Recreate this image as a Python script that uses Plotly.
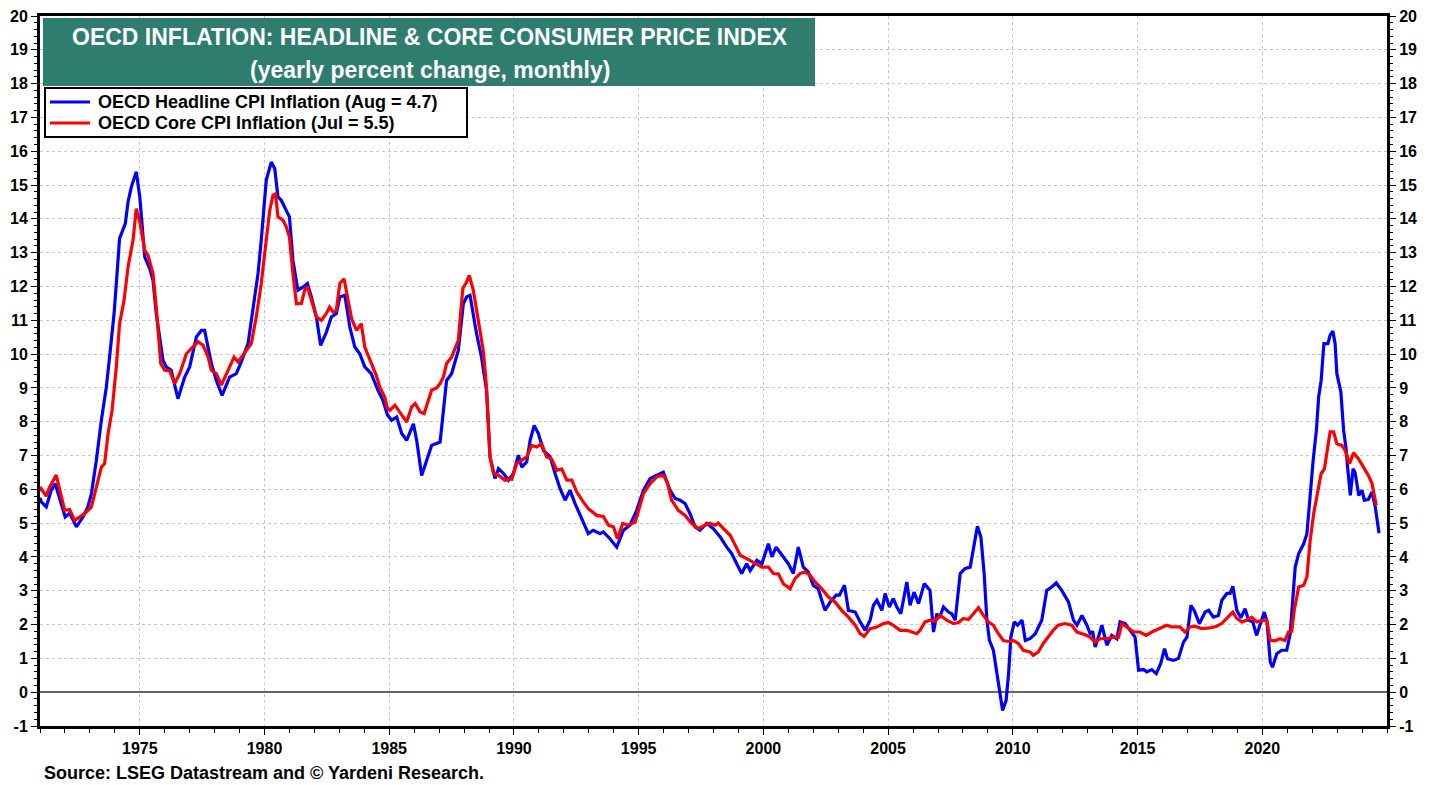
import plotly.graph_objects as go

# ---------------- data ----------------
headline_dates = [
    1971.00, 1971.05, 1971.25, 1971.45, 1971.61, 1971.85, 1972.01, 1972.19, 1972.46, 1972.72,
    1972.92, 1973.06, 1973.26, 1973.46, 1973.66, 1973.79, 1973.97, 1974.06, 1974.19, 1974.42,
    1974.53, 1974.66, 1974.86, 1975.00, 1975.13, 1975.20, 1975.40, 1975.53, 1975.66, 1975.80,
    1975.93, 1976.06, 1976.26, 1976.53, 1976.80, 1977.00, 1977.27, 1977.47, 1977.60, 1977.87,
    1978.07, 1978.30, 1978.60, 1978.87, 1979.07, 1979.34, 1979.54, 1979.74, 1979.87, 1980.07,
    1980.27, 1980.41, 1980.54, 1980.67, 1980.87, 1981.00, 1981.14, 1981.34, 1981.54, 1981.72,
    1981.88, 1982.08, 1982.25, 1982.48, 1982.68, 1982.88, 1983.02, 1983.22, 1983.42, 1983.62,
    1983.82, 1984.02, 1984.28, 1984.55, 1984.75, 1984.93, 1985.10, 1985.30, 1985.50, 1985.70,
    1985.97, 1986.10, 1986.30, 1986.50, 1986.70, 1987.04, 1987.17, 1987.30, 1987.50, 1987.77,
    1987.97, 1988.10, 1988.24, 1988.50, 1988.70, 1988.90, 1989.04, 1989.24, 1989.38, 1989.58,
    1989.78, 1989.98, 1990.18, 1990.31, 1990.51, 1990.65, 1990.81, 1990.98, 1991.18, 1991.45,
    1991.65, 1991.85, 1992.05, 1992.25, 1992.45, 1992.65, 1992.98, 1993.18, 1993.45, 1993.58,
    1993.85, 1994.12, 1994.39, 1994.65, 1994.92, 1995.19, 1995.46, 1995.73, 1995.99, 1996.26,
    1996.46, 1996.66, 1996.86, 1997.06, 1997.26, 1997.46, 1997.73, 1997.99, 1998.27, 1998.53,
    1998.73, 1998.93, 1999.13, 1999.33, 1999.47, 1999.74, 1999.94, 2000.20, 2000.34, 2000.51,
    2000.74, 2001.00, 2001.20, 2001.40, 2001.60, 2001.80, 2002.00, 2002.20, 2002.34, 2002.47,
    2002.68, 2002.92, 2003.05, 2003.25, 2003.41, 2003.68, 2003.88, 2004.08, 2004.28, 2004.41,
    2004.55, 2004.75, 2004.88, 2005.05, 2005.21, 2005.35, 2005.51, 2005.75, 2005.88, 2006.04,
    2006.22, 2006.45, 2006.68, 2006.75, 2006.82, 2006.95, 2007.06, 2007.22, 2007.42, 2007.55,
    2007.69, 2007.89, 2008.09, 2008.29, 2008.42, 2008.58, 2008.72, 2008.85, 2008.96, 2009.06,
    2009.22, 2009.36, 2009.52, 2009.59, 2009.73, 2009.83, 2009.92, 2010.06, 2010.19, 2010.37,
    2010.50, 2010.70, 2010.90, 2011.16, 2011.36, 2011.56, 2011.74, 2011.96, 2012.23, 2012.43,
    2012.57, 2012.77, 2012.97, 2013.10, 2013.20, 2013.30, 2013.43, 2013.57, 2013.77, 2013.97,
    2014.17, 2014.30, 2014.50, 2014.70, 2014.90, 2015.04, 2015.24, 2015.37, 2015.57, 2015.75,
    2015.93, 2016.08, 2016.20, 2016.44, 2016.64, 2016.84, 2016.98, 2017.14, 2017.27, 2017.48,
    2017.71, 2017.85, 2018.04, 2018.24, 2018.38, 2018.58, 2018.71, 2018.82, 2018.98, 2019.14,
    2019.31, 2019.45, 2019.62, 2019.77, 2019.90, 2020.08, 2020.19, 2020.32, 2020.41, 2020.58,
    2020.78, 2020.98, 2021.12, 2021.23, 2021.32, 2021.46, 2021.66, 2021.79, 2021.90, 2022.04,
    2022.17, 2022.26, 2022.36, 2022.47, 2022.63, 2022.72, 2022.83, 2022.92, 2022.99, 2023.15,
    2023.26, 2023.36, 2023.42, 2023.53, 2023.64, 2023.72, 2023.87, 2024.00, 2024.09, 2024.25,
    2024.40, 2024.53, 2024.68,
]
headline_values = [
    5.75, 5.63, 5.48, 5.97, 6.17, 5.58, 5.18, 5.29, 4.89, 5.18,
    5.48, 5.87, 6.86, 8.04, 9.03, 9.91, 11.20, 12.09, 13.42, 13.86,
    14.50, 14.94, 15.39, 14.65, 13.46, 12.87, 12.53, 12.18, 11.20, 10.41,
    9.82, 9.62, 9.52, 8.68, 9.32, 9.62, 10.51, 10.70, 10.70, 9.72,
    9.22, 8.78, 9.32, 9.42, 9.77, 10.31, 11.39, 12.38, 13.37, 15.14,
    15.68, 15.49, 14.65, 14.55, 14.25, 14.06, 12.77, 11.89, 11.98, 12.09,
    11.69, 11.10, 10.26, 10.65, 11.10, 11.20, 11.69, 11.74, 10.80, 10.21,
    10.01, 9.62, 9.42, 8.93, 8.63, 8.20, 8.04, 8.14, 7.65, 7.45,
    7.94, 7.45, 6.41, 6.86, 7.30, 7.40, 8.24, 9.22, 9.42, 10.11,
    11.49, 11.69, 11.74, 10.61, 9.91, 8.93, 6.96, 6.32, 6.61, 6.47,
    6.27, 6.47, 7.01, 6.66, 6.81, 7.45, 7.89, 7.65, 7.15, 6.96,
    6.47, 6.02, 5.68, 5.97, 5.58, 5.23, 4.69, 4.79, 4.69, 4.74,
    4.54, 4.29, 4.79, 4.94, 5.38, 5.97, 6.32, 6.42, 6.51, 5.97,
    5.73, 5.68, 5.58, 5.28, 4.89, 4.79, 4.99, 4.84, 4.59, 4.29,
    4.10, 3.80, 3.51, 3.80, 3.60, 3.90, 3.80, 4.39, 4.00, 4.29,
    4.05, 3.80, 3.51, 4.29, 3.70, 3.56, 3.16, 3.06, 2.72, 2.42,
    2.67, 2.87, 2.87, 3.16, 2.42, 2.37, 2.08, 1.83, 2.13, 2.57,
    2.72, 2.42, 2.92, 2.52, 2.77, 2.52, 2.32, 3.26, 2.57, 2.96,
    2.62, 3.21, 3.01, 2.22, 1.78, 2.32, 2.20, 2.52, 2.37, 2.32,
    2.13, 3.51, 3.66, 3.70, 4.29, 4.91, 4.59, 3.51, 2.13, 1.53,
    1.24, 0.55, -0.14, -0.54, -0.24, 0.55, 1.63, 2.08, 1.98, 2.13,
    1.53, 1.59, 1.73, 2.13, 3.01, 3.11, 3.23, 3.01, 2.67, 2.13,
    1.98, 2.27, 1.98, 1.73, 1.80, 1.34, 1.63, 1.98, 1.39, 1.68,
    1.58, 2.08, 2.03, 1.83, 1.63, 0.65, 0.67, 0.60, 0.67, 0.55,
    0.85, 1.29, 0.99, 0.94, 1.00, 1.48, 1.63, 2.57, 2.42, 2.03,
    2.37, 2.42, 2.22, 2.27, 2.72, 2.92, 2.92, 3.13, 2.42, 2.20,
    2.47, 2.13, 2.08, 1.68, 2.00, 2.37, 2.08, 0.89, 0.74, 1.14,
    1.24, 1.24, 1.73, 2.92, 3.70, 4.10, 4.39, 4.69, 5.77, 6.86,
    7.75, 8.73, 9.22, 10.31, 10.31, 10.56, 10.68, 10.31, 9.42, 8.88,
    7.75, 7.20, 6.66, 5.82, 6.61, 6.50, 5.82, 5.97, 5.68, 5.70,
    5.92, 5.48, 4.70,
]

core_dates = [
    1971.00, 1971.05, 1971.25, 1971.39, 1971.65, 1971.79, 1971.99, 1972.19, 1972.39, 1972.59,
    1972.79, 1973.06, 1973.26, 1973.46, 1973.59, 1973.73, 1973.89, 1974.06, 1974.19, 1974.37,
    1974.53, 1974.73, 1974.86, 1975.00, 1975.20, 1975.33, 1975.53, 1975.66, 1975.84, 1976.00,
    1976.20, 1976.40, 1976.60, 1976.87, 1977.13, 1977.34, 1977.54, 1977.74, 1977.87, 1978.07,
    1978.27, 1978.54, 1978.78, 1978.94, 1979.21, 1979.47, 1979.67, 1979.87, 1980.07, 1980.21,
    1980.34, 1980.44, 1980.54, 1980.74, 1980.87, 1981.00, 1981.14, 1981.28, 1981.48, 1981.61,
    1981.72, 1981.88, 1982.08, 1982.28, 1982.48, 1982.61, 1982.75, 1982.88, 1983.02, 1983.19,
    1983.35, 1983.49, 1983.69, 1983.88, 1984.02, 1984.22, 1984.48, 1984.62, 1984.82, 1984.93,
    1985.03, 1985.23, 1985.50, 1985.70, 1985.90, 1986.04, 1986.24, 1986.40, 1986.70, 1986.90,
    1987.04, 1987.17, 1987.30, 1987.50, 1987.77, 1987.95, 1988.08, 1988.21, 1988.37, 1988.57,
    1988.77, 1988.90, 1989.04, 1989.18, 1989.38, 1989.64, 1989.91, 1990.11, 1990.31, 1990.51,
    1990.71, 1990.91, 1991.11, 1991.31, 1991.51, 1991.72, 1991.92, 1992.12, 1992.32, 1992.52,
    1992.78, 1992.98, 1993.32, 1993.58, 1993.79, 1993.99, 1994.15, 1994.36, 1994.59, 1994.86,
    1995.19, 1995.46, 1995.73, 1995.99, 1996.15, 1996.32, 1996.59, 1996.86, 1997.13, 1997.39,
    1997.66, 1997.86, 1998.06, 1998.19, 1998.40, 1998.67, 1998.87, 1999.07, 1999.33, 1999.60,
    1999.94, 2000.20, 2000.40, 2000.60, 2000.80, 2001.07, 2001.27, 2001.47, 2001.67, 2001.87,
    2002.07, 2002.34, 2002.60, 2002.87, 2003.14, 2003.41, 2003.68, 2003.88, 2004.04, 2004.28,
    2004.55, 2004.81, 2005.01, 2005.21, 2005.48, 2005.75, 2005.95, 2006.15, 2006.28, 2006.48,
    2006.68, 2006.88, 2007.09, 2007.35, 2007.62, 2007.82, 2008.02, 2008.22, 2008.42, 2008.62,
    2008.82, 2009.02, 2009.22, 2009.42, 2009.62, 2009.82, 2010.02, 2010.22, 2010.42, 2010.69,
    2010.82, 2011.02, 2011.22, 2011.42, 2011.62, 2011.82, 2012.09, 2012.36, 2012.57, 2012.90,
    2013.10, 2013.30, 2013.50, 2013.77, 2014.04, 2014.24, 2014.37, 2014.57, 2014.84, 2015.10,
    2015.34, 2015.57, 2015.84, 2016.17, 2016.37, 2016.70, 2016.90, 2017.10, 2017.30, 2017.57,
    2017.90, 2018.17, 2018.37, 2018.58, 2018.82, 2018.98, 2019.18, 2019.38, 2019.58, 2019.78,
    2019.98, 2020.18, 2020.32, 2020.51, 2020.71, 2020.91, 2021.05, 2021.18, 2021.28, 2021.46,
    2021.66, 2021.79, 2021.92, 2022.06, 2022.19, 2022.36, 2022.49, 2022.59, 2022.72, 2022.86,
    2022.99, 2023.19, 2023.32, 2023.50, 2023.66, 2023.86, 2024.06, 2024.26, 2024.40, 2024.57,
]
core_values = [
    5.95, 6.02, 5.80, 6.07, 6.42, 5.97, 5.38, 5.40, 5.08, 5.18,
    5.28, 5.48, 6.07, 6.66, 6.76, 7.65, 8.34, 9.62, 10.90, 11.59,
    12.58, 13.37, 14.30, 13.91, 13.07, 12.92, 12.38, 11.39, 9.72, 9.52,
    9.50, 9.13, 9.42, 10.01, 10.21, 10.36, 10.26, 9.91, 9.52, 9.42,
    9.08, 9.52, 9.91, 9.77, 10.06, 10.31, 11.10, 12.09, 13.37, 14.25,
    14.70, 14.74, 14.06, 13.96, 13.77, 13.46, 12.38, 11.49, 11.50, 11.89,
    12.00, 11.60, 11.10, 11.00, 11.20, 11.39, 11.25, 11.30, 12.09, 12.23,
    11.59, 11.05, 10.70, 10.90, 10.21, 9.82, 9.37, 9.03, 8.73, 8.40,
    8.34, 8.49, 8.19, 7.99, 8.44, 8.54, 8.29, 8.24, 8.93, 9.00,
    9.13, 9.32, 9.72, 9.91, 10.41, 11.94, 12.10, 12.33, 11.89, 11.00,
    10.11, 9.03, 6.96, 6.47, 6.42, 6.27, 6.30, 6.76, 6.86, 6.96,
    7.30, 7.25, 7.35, 6.96, 6.90, 6.56, 6.60, 6.27, 6.27, 5.92,
    5.63, 5.43, 5.23, 5.20, 4.94, 4.89, 4.54, 4.99, 4.94, 5.03,
    5.87, 6.17, 6.37, 6.42, 6.20, 5.68, 5.38, 5.23, 4.99, 4.84,
    4.94, 5.00, 4.94, 5.00, 4.84, 4.64, 4.35, 4.05, 3.95, 3.85,
    3.70, 3.70, 3.51, 3.50, 3.21, 3.06, 3.36, 3.51, 3.56, 3.46,
    3.26, 3.06, 2.82, 2.67, 2.42, 2.22, 1.98, 1.73, 1.65, 1.88,
    1.93, 2.03, 2.06, 1.98, 1.83, 1.83, 1.78, 1.73, 1.83, 2.08,
    2.13, 2.10, 2.27, 2.13, 2.03, 2.06, 2.18, 2.15, 2.32, 2.50,
    2.27, 2.08, 1.98, 1.73, 1.53, 1.50, 1.53, 1.44, 1.24, 1.19,
    1.09, 1.19, 1.44, 1.63, 1.83, 1.98, 2.03, 1.98, 1.78, 1.70,
    1.63, 1.48, 1.58, 1.58, 1.63, 1.63, 2.03, 1.93, 1.78, 1.78,
    1.68, 1.78, 1.88, 1.98, 1.93, 1.93, 1.78, 1.93, 1.95, 1.88,
    1.90, 1.95, 2.03, 2.18, 2.37, 2.18, 2.08, 2.13, 2.22, 2.08,
    2.12, 2.13, 1.53, 1.52, 1.58, 1.53, 1.78, 1.80, 2.42, 3.11,
    3.16, 3.41, 4.49, 5.28, 5.77, 6.47, 6.60, 7.15, 7.70, 7.70,
    7.35, 7.30, 7.15, 6.76, 7.08, 6.90, 6.66, 6.40, 6.17, 5.53,
]

x_tick_values = [1975, 1980, 1985, 1990, 1995, 2000, 2005, 2010, 2015, 2020]
x_tick_labels = ["1975", "1980", "1985", "1990", "1995", "2000", "2005", "2010", "2015", "2020"]
y_tick_values = list(range(-1, 21))
y_tick_labels = [str(v) for v in y_tick_values]

headline_name = "OECD Headline CPI Inflation (Aug = 4.7)"
core_name = "OECD Core CPI Inflation (Jul = 5.5)"
title_line1 = "OECD INFLATION: HEADLINE & CORE CONSUMER PRICE INDEX"
title_line2 = "(yearly percent change, monthly)"
source_text = "Source: LSEG Datastream and © Yardeni Research."

# ---------------- figure ----------------
FONT = "Liberation Sans, Arial, sans-serif"
W, H = 1439, 785
ML, MR, MT, MB = 40, 52, 16, 59
PW = W - ML - MR
PH = H - MT - MB
HEAD_COLOR = "#0000FF"
CORE_COLOR = "#FF0000"


def px_x(px):
    return (px - ML) / PW


def px_y(py):
    return 1 - (py - MT) / PH


fig = go.Figure()
fig.add_trace(go.Scatter(
    x=headline_dates, y=headline_values, mode="lines", name=headline_name,
    line=dict(color=HEAD_COLOR, width=3.2), hoverinfo="x+y", showlegend=False,
))
fig.add_trace(go.Scatter(
    x=core_dates, y=core_values, mode="lines", name=core_name,
    line=dict(color=CORE_COLOR, width=3.2), hoverinfo="x+y", showlegend=False,
))
# invisible trace so the right-hand axis is drawn
fig.add_trace(go.Scatter(
    x=headline_dates, y=headline_values, yaxis="y2", mode="lines",
    line=dict(color="rgba(0,0,0,0)", width=0), showlegend=False, hoverinfo="skip",
))

tickfont = dict(family=FONT, size=16, color="black", weight="bold")
grid_color = "#C8C8C8"

yaxis_common = dict(
    range=[-1, 20], tickmode="array", tickvals=y_tick_values, ticktext=y_tick_labels,
    ticks="outside", ticklen=6, tickwidth=1, tickcolor="black",
    minor=dict(dtick=0.2, tick0=0, ticks="outside", ticklen=3, tickcolor="black", showgrid=False),
    tickfont=tickfont, fixedrange=True, automargin=False,
)

# legend box drawn as shapes + text (matches the compact reference legend)
legend_rows = [(headline_name, HEAD_COLOR, 102), (core_name, CORE_COLOR, 123)]
shapes = [
    dict(
        type="rect", xref="paper", yref="paper",
        x0=px_x(43), x1=px_x(815), y0=px_y(86), y1=px_y(18),
        fillcolor="#2E7D6E", line=dict(width=0), layer="above",
    ),
    dict(
        type="rect", xref="paper", yref="paper",
        x0=px_x(45), x1=px_x(467), y0=px_y(137), y1=px_y(88),
        fillcolor="white", line=dict(color="black", width=2), layer="above",
    ),
]
annotations = [
    dict(
        text=title_line1, xref="paper", yref="paper",
        x=px_x(430), y=px_y(37), xanchor="center", yanchor="middle", showarrow=False,
        font=dict(family=FONT, size=23, color="white", weight="bold"),
    ),
    dict(
        text=title_line2, xref="paper", yref="paper",
        x=px_x(430), y=px_y(70), xanchor="center", yanchor="middle", showarrow=False,
        font=dict(family=FONT, size=23, color="white", weight="bold"),
    ),
    dict(
        text=source_text, xref="paper", yref="paper",
        x=px_x(42), y=px_y(773), xanchor="left", yanchor="middle", showarrow=False,
        font=dict(family=FONT, size=18, color="black", weight="bold"),
    ),
]
for name, color, ypx in legend_rows:
    shapes.append(dict(
        type="line", xref="paper", yref="paper",
        x0=px_x(50), x1=px_x(90), y0=px_y(ypx), y1=px_y(ypx),
        line=dict(color=color, width=3.2), layer="above",
    ))
    annotations.append(dict(
        text=name, xref="paper", yref="paper",
        x=px_x(96), y=px_y(ypx), xanchor="left", yanchor="middle", showarrow=False,
        font=dict(family=FONT, size=18, color="black", weight="bold"),
    ))

fig.update_layout(
    width=W, height=H,
    margin=dict(l=ML, r=MR, t=MT, b=MB, autoexpand=False),
    paper_bgcolor="white", plot_bgcolor="white",
    showlegend=False,
    xaxis=dict(
        range=[1971, 2025], tickmode="array", tickvals=x_tick_values, ticktext=x_tick_labels,
        ticks="outside", ticklen=6, tickcolor="black",
        minor=dict(dtick=1, tick0=1971, ticks="outside", ticklen=4, tickcolor="black", showgrid=False),
        showgrid=True, gridcolor=grid_color, griddash="dot", gridwidth=1,
        showline=True, linecolor="black", linewidth=3, mirror=True,
        zeroline=False, tickfont=tickfont, fixedrange=True, automargin=False,
    ),
    yaxis=dict(
        **yaxis_common,
        side="left",
        showgrid=True, gridcolor=grid_color, griddash="dot", gridwidth=1,
        zeroline=True, zerolinecolor="#666666", zerolinewidth=1.5,
        showline=True, linecolor="black", linewidth=3, mirror=True,
    ),
    yaxis2=dict(
        **yaxis_common,
        side="right", overlaying="y", showgrid=False, zeroline=False,
        showline=True, linecolor="black", linewidth=3,
    ),
    shapes=shapes,
    annotations=annotations,
)

fig.write_html(
    "out.html",
    config={"displayModeBar": False},
    post_script="document.body.style.margin='0';document.body.style.padding='0';",
)
